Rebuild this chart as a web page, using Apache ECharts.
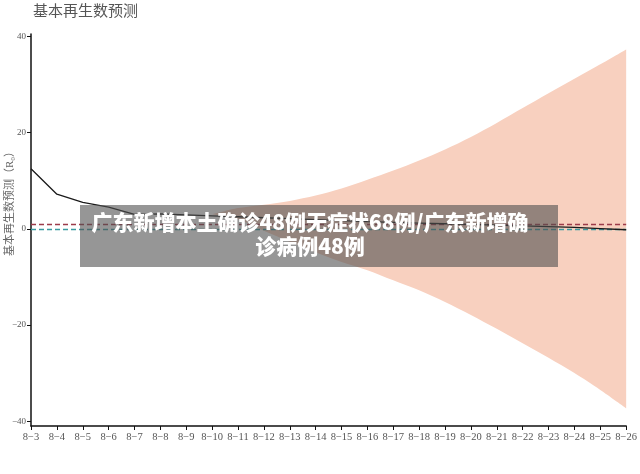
<!DOCTYPE html>
<html>
<head>
<meta charset="utf-8">
<script src="https://cdn.jsdelivr.net/npm/echarts@6/dist/echarts.min.js"></script>
<style>html,body{margin:0;padding:0;background:#fff;}#c{width:640px;height:474px;}</style>
</head>
<body>
<div id="c"></div>
<script>
const categories = ['8−3','8−4','8−5','8−6','8−7','8−8','8−9','8−10','8−11','8−12','8−13','8−14','8−15','8−16','8−17','8−18','8−19','8−20','8−21','8−22','8−23','8−24','8−25','8−26'];
const r0Estimate = [12.5,7.2,5.5,4.5,3.0,3.1,2.9,2.7,2.5,2.3,2.1,1.9,1.7,1.5,1.35,1.2,1.05,0.9,0.75,0.6,0.45,0.3,0.05,-0.2];
const bandUpper = [null,null,null,null,null,null,null,3.0,4.3,5.0,5.8,6.9,8.4,10.2,12.1,14.2,16.5,19.1,22.0,25.1,28.2,31.2,34.2,37.3];
const bandLower = [null,null,null,null,null,null,null,3.0,2.0,-0.4,-2.7,-4.9,-6.9,-8.6,-10.7,-12.8,-15.2,-17.9,-20.8,-23.8,-26.8,-30.0,-33.5,-37.3];
const thresholdLine = 1;
const baselineLine = 0;
const yTicks = [-40,-20,0,20,40];

const bandDiff = bandUpper.map((u,i)=> (u==null||bandLower[i]==null) ? null : +(u-bandLower[i]).toFixed(3));
const serif = 'Liberation Serif, DejaVu Serif, Noto Sans CJK SC, serif';

const chart = echarts.init(document.getElementById('c'), null, {renderer:'canvas'});
chart.setOption({
  animation:false,
  backgroundColor:'#fff',
  grid:{left:31,right:6,top:34,bottom:48,containLabel:false},
  xAxis:{
    type:'category', data:categories, boundaryGap:false,
    axisLine:{show:true,onZero:false,lineStyle:{color:'#111',width:1.5}},
    axisTick:{show:true,alignWithLabel:true,length:4,lineStyle:{color:'#111'}},
    axisLabel:{color:'#555',fontFamily:serif,fontSize:10.5,margin:6,interval:0},
    splitLine:{show:false}
  },
  yAxis:{
    type:'value', min:-41, max:40.5,
    axisLine:{show:true,lineStyle:{color:'#111',width:1.5}},
    axisTick:{show:true,length:4,customValues:yTicks,lineStyle:{color:'#111'}},
    axisLabel:{color:'#555',fontFamily:serif,fontSize:9,margin:5,customValues:yTicks,
      formatter:v=>String(v).replace('-','−')},
    splitLine:{show:false}
  },
  graphic:[
    {type:'text',left:33,top:5,style:{text:'基本再生数预测',fill:'#555',font:'15px '+serif}},
    {type:'text',x:10,y:201,rotation:Math.PI/2,style:{text:'基本再生数预测（R₀）',fill:'#666',font:'11px '+serif,align:'center',verticalAlign:'middle'}},
    {type:'rect',z:100,shape:{x:80,y:205,width:478,height:62},style:{fill:'rgba(80,80,80,0.6)'}},
    {type:'text',z:101,x:310,y:222,style:{text:'广东新增本土确诊48例无症状68例/广东新增确',fill:'#fff',font:'900 21px Noto Sans CJK SC, sans-serif',align:'center',verticalAlign:'middle'}},
    {type:'text',z:101,x:310,y:246,style:{text:'诊病例48例',fill:'#fff',font:'900 21px Noto Sans CJK SC, sans-serif',align:'center',verticalAlign:'middle'}}
  ],
  series:[
    {type:'line',name:'lower',data:bandLower,stack:'band',stackStrategy:'all',smooth:0.3,symbol:'none',lineStyle:{opacity:0},silent:true,z:1},
    {type:'line',name:'band',data:bandDiff,stack:'band',stackStrategy:'all',smooth:0.3,symbol:'none',lineStyle:{opacity:0},areaStyle:{color:'#f8d0bf',opacity:1},silent:true,z:1},
    {type:'line',name:'ref',data:[],symbol:'none',z:3,
      markLine:{symbol:'none',silent:true,label:{show:false},
        data:[
          {yAxis:thresholdLine,lineStyle:{color:'#9c3b4a',type:[5,3],width:1.3}},
          {yAxis:baselineLine,lineStyle:{color:'#3a9aa0',type:[5,3],width:1.3}}
        ]}},
    {type:'line',name:'R0',data:r0Estimate,symbol:'none',lineStyle:{color:'#1a1a1a',width:1.3},z:5}
  ]
});
</script>
</body>
</html>
